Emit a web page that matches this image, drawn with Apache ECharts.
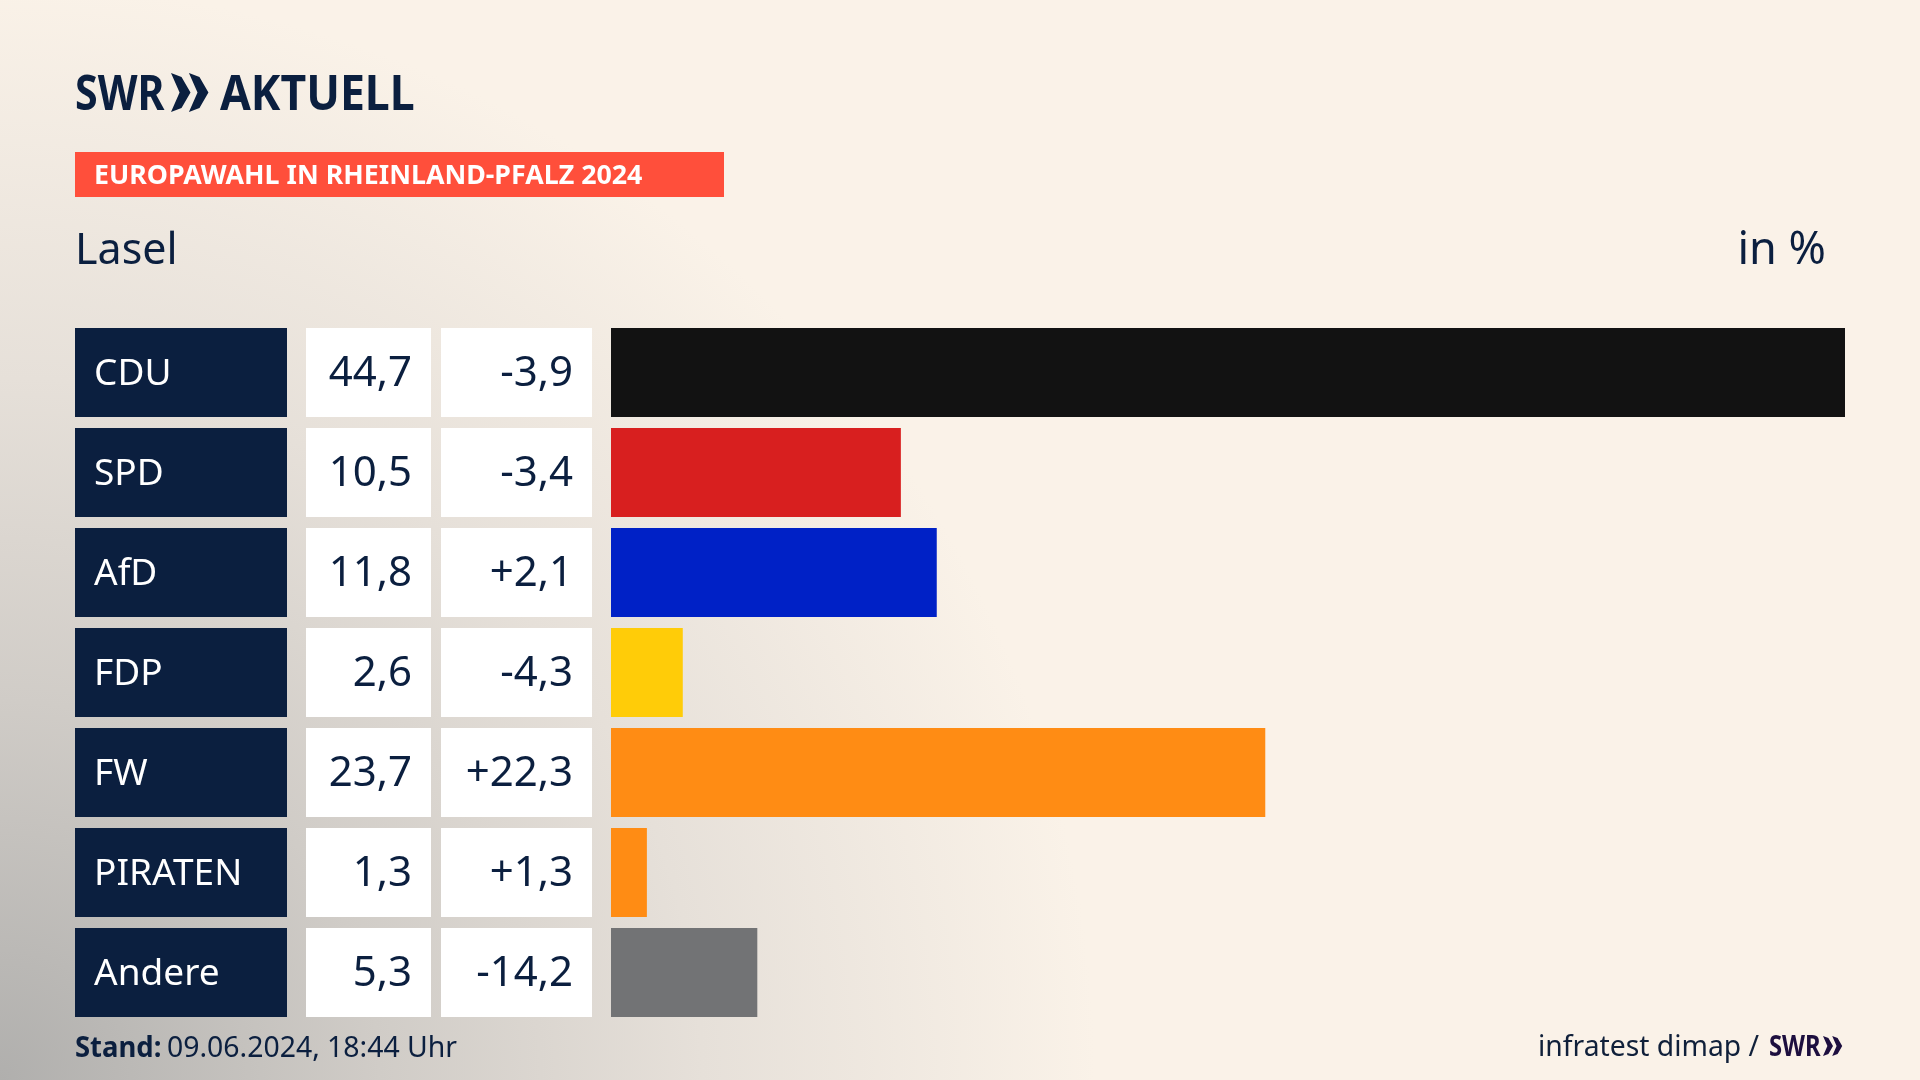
<!DOCTYPE html>
<html>
<head>
<meta charset="utf-8">
<title>Europawahl Lasel</title>
<script src="https://cdn.jsdelivr.net/npm/echarts@6/dist/echarts.min.js"></script>
<style>
html, body { margin: 0; padding: 0; background: #faf2e8; }
#chart { width: 1920px; height: 1080px; }
</style>
</head>
<body>
<div id="chart"></div>
<script>
var parties = ['CDU', 'SPD', 'AfD', 'FDP', 'FW', 'PIRATEN', 'Andere'];
var shares = [44.7, 10.5, 11.8, 2.6, 23.7, 1.3, 5.3];
var changes = [-3.9, -3.4, 2.1, -4.3, 22.3, 1.3, -14.2];
var partyColors = ['#121212', '#d81f1f', '#0021c6', '#ffcc08', '#ff8c14', '#ff8c14', '#727375'];

var navy = '#0b1f3f';
var fontName = '"Noto Sans", sans-serif';

function fmt(v) {
    return v.toFixed(1).replace('.', ',');
}
function fmtChange(v) {
    return (v > 0 ? '+' : '') + fmt(v);
}

// table cells left of the bars, y comes from the category axis
function renderCells(params, api) {
    var i = api.value(0);
    var mid = api.coord([0, i])[1];
    var top = mid - 44.5;
    var h = 89;
    function box(x, w, color) {
        return { type: 'rect', shape: { x: x, y: top, width: w, height: h }, style: { fill: color } };
    }
    function label(x, str, color, align, size) {
        return {
            type: 'text',
            style: {
                x: x, y: mid + 2, text: str, fill: color, align: align, verticalAlign: 'middle',
                font: size + 'px ' + fontName
            }
        };
    }
    return {
        type: 'group',
        children: [
            box(75, 212, navy),
            box(306, 125, '#ffffff'),
            box(441, 151, '#ffffff'),
            label(94, parties[i], '#ffffff', 'left', 37),
            label(412, fmt(shares[i]), navy, 'right', 42),
            label(573, fmtChange(changes[i]), navy, 'right', 42)
        ]
    };
}

// y is the text baseline, echarts only knows top/middle/bottom
function text(x, y, str, size, weight, color, align, scaleX) {
    return {
        type: 'text',
        x: x, y: y - 0.29 * size,
        scaleX: scaleX || 1,
        style: {
            x: 0, y: 0, text: str, fill: color, align: align || 'left', verticalAlign: 'middle',
            font: weight + ' ' + size + 'px ' + fontName
        }
    };
}

// the >> of the SWR logo
function chevrons(x, y, h, color) {
    function one(x0) {
        return {
            type: 'polygon',
            shape: { points: [[x0, y], [x0 + h * 0.27, y + h * 0.1], [x0 + h * 0.5, y + h / 2], [x0 + h * 0.27, y + h * 0.9], [x0, y + h], [x0 + h * 0.22, y + h / 2]] },
            style: { fill: color }
        };
    }
    return [one(x), one(x + h * 0.46)];
}

var myChart = echarts.init(document.getElementById('chart'), null, { renderer: 'canvas' });

var option = {
    animation: false,
    backgroundColor: new echarts.graphic.RadialGradient(0, 1, 1.3, [
        { offset: 0, color: '#b0afad' },
        { offset: 0.27, color: '#d0ccc7' },
        { offset: 0.5, color: '#e6e0d9' },
        { offset: 0.78, color: '#faf2e8' },
        { offset: 1, color: '#faf2e8' }
    ]),
    grid: { left: 611, right: 75, top: 322.5, height: 700 },
    xAxis: { type: 'value', min: 0, max: 44.7, show: false },
    yAxis: { type: 'category', data: parties, inverse: true, show: false },
    series: [
        {
            type: 'bar',
            barWidth: 89,
            data: shares.map(function (v, i) {
                return { value: v, itemStyle: { color: partyColors[i] } };
            })
        },
        {
            type: 'custom',
            renderItem: renderCells,
            encode: { y: 0 },
            data: parties.map(function (p, i) { return [i]; })
        }
    ],
    graphic: [
        text(75, 110, 'SWR', 49, 'bold', navy, 'left', 0.84),
        text(220, 110, 'AKTUELL', 49, 'bold', navy, 'left', 0.91),
        { type: 'rect', shape: { x: 75, y: 152, width: 649, height: 45 }, style: { fill: '#ff4f3b' } },
        text(94, 184, 'EUROPAWAHL IN RHEINLAND-PFALZ 2024', 26, 'bold', '#ffffff', 'left', 1.03),
        text(75, 264, 'Lasel', 43, 'normal', navy),
        text(1826, 264, 'in %', 45, 'normal', navy, 'right'),
        text(75, 1057, 'Stand:', 28, 'bold', navy, 'left', 0.98),
        text(167, 1057, '09.06.2024, 18:44 Uhr', 28.4, 'normal', navy),
        text(1538, 1056, 'infratest dimap /', 28.3, 'normal', '#10203a'),
        text(1769, 1056, 'SWR', 29, 'bold', '#1d0f3f', 'left', 0.82)
    ].concat(chevrons(171, 73, 39, navy), chevrons(1823, 1036, 20, '#1d0f3f'))
};

myChart.setOption(option);
</script>
</body>
</html>
